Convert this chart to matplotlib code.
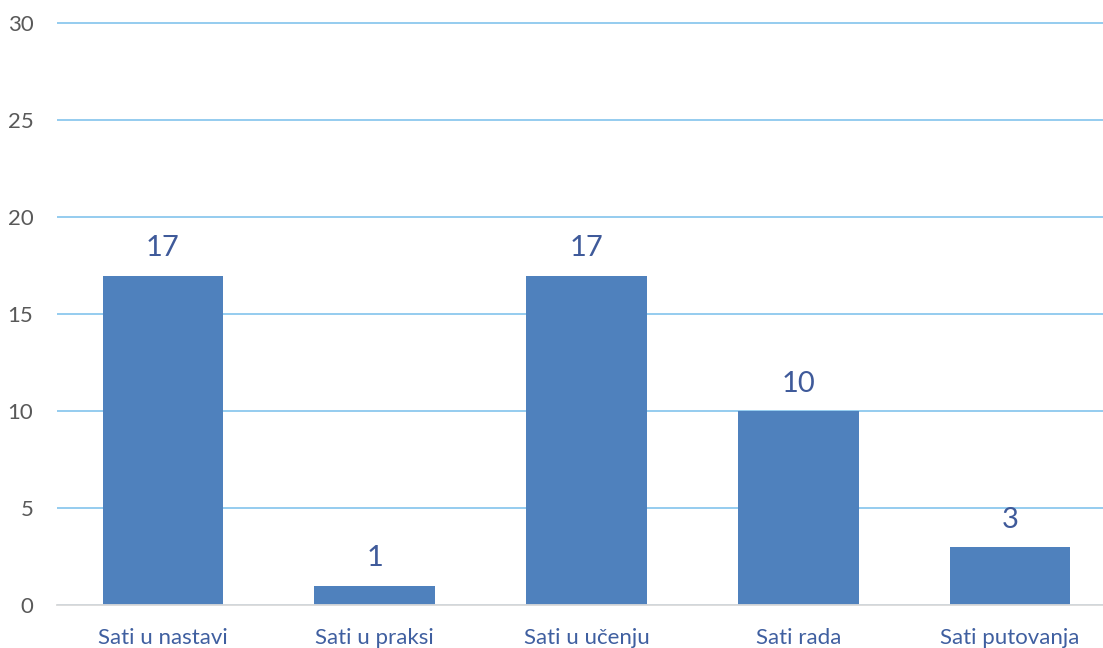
import matplotlib.pyplot as plt

categories = ["Sati u nastavi", "Sati u praksi", "Sati u učenju", "Sati rada", "Sati putovanja"]
values = [17, 1, 17, 10, 3]
yticks = [0, 5, 10, 15, 20, 25, 30]

plt.rcParams['font.family'] = ['Lato', 'DejaVu Sans']

fig = plt.figure(figsize=(11.03, 6.48), dpi=100)
ax = fig.add_axes([57 / 1103, 42.7 / 648, 1059 / 1103, 585 / 648])

x = range(len(categories))
bars = ax.bar(x, values, width=0.57, color="#4F81BD", zorder=3)
for xi, v in zip(x, values):
    ax.text(xi, v + 0.75, str(v), ha="center", va="bottom",
            fontsize=21, color="#3F5A9A")

ax.set_xlim(-0.5, len(categories) - 0.5)
ax.set_ylim(0, 30 * 585 / 582)
ax.set_yticks(yticks)
ax.set_xticks(list(x))
ax.set_xticklabels(categories, fontsize=16, color="#3F5FA0")
ax.tick_params(axis="y", labelsize=16, labelcolor="#595959", length=0, pad=17)
ax.tick_params(axis="x", length=0, pad=16)

ax.grid(axis="y", color="#8CC8EE", linewidth=1.3, zorder=0)
for s in ["top", "right", "left"]:
    ax.spines[s].set_visible(False)
ax.spines["bottom"].set_color("#D9D9D9")
ax.spines["bottom"].set_linewidth(1.3)
ax.spines["bottom"].set_zorder(4)

fig.savefig("out.png", dpi=100)
